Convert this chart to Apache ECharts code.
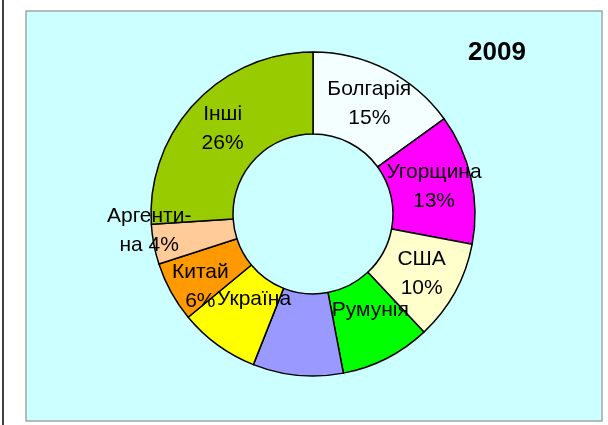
<!DOCTYPE html>
<html>
<head>
<meta charset="utf-8">
<script src="https://cdn.jsdelivr.net/npm/echarts@6/dist/echarts.min.js"></script>
<style>
  html, body { margin: 0; padding: 0; background: #fff; }
  #chart { width: 608px; height: 425px; }
</style>
</head>
<body>
<div id="chart"></div>
<script>
// data (share of exports, %, 2009)
const year = '2009';
const countries = ['Болгарія', 'Угорщина', 'США', 'Румунія', '', 'Україна', 'Китай', 'Аргентина', 'Інші'];
const shares = [15, 13, 10, 9, 9, 8, 6, 4, 26];

const palette = ['#F4FFFF', '#FF00FF', '#FFFFCC', '#00FF00', '#9999FF', '#FFFF00', '#FF9900', '#FFCC99', '#99CC00'];
// label nudges, by country name
const nudge = {
  'Румунія': { dx: 1, dy: -14 },
  'Україна': { dx: 14, dy: -15 },
  'Китай': { dx: -4, dy: 13 },
  'Аргентина': { dx: -42, dy: -7 }
};
const nameOnly = ['Румунія', 'Україна'];

const chart = echarts.init(document.getElementById('chart'));

const option = {
  backgroundColor: '#fff',
  animation: false,
  textStyle: { fontFamily: 'Liberation Sans, Arial, sans-serif' },
  color: palette,
  graphic: [
    { type: 'line', shape: { x1: 3, y1: 0, x2: 3, y2: 425 }, style: { stroke: '#000', lineWidth: 1.5 }, z: -1 },
    { type: 'rect', shape: { x: 26, y: 11, width: 576, height: 410 }, style: { fill: '#CCFFFF', stroke: '#A0A8A8', lineWidth: 1.5 }, z: -1 }
  ],
  title: {
    text: year,
    left: 463,
    top: 35,
    textStyle: { fontSize: 26, fontWeight: 'bold', color: '#000', fontFamily: 'Liberation Sans, Arial, sans-serif' }
  },
  series: [{
    type: 'pie',
    center: [313, 214],
    radius: [80, 162],
    startAngle: 90,
    clockwise: true,
    avoidLabelOverlap: false,
    itemStyle: { borderColor: '#000', borderWidth: 1.5 },
    label: {
      show: true,
      position: 'inside',
      color: '#000',
      fontSize: 21,
      lineHeight: 29,
      fontFamily: 'Liberation Sans, Arial, sans-serif',
      formatter: p => {
        if (nameOnly.includes(p.name)) return p.name;
        if (p.name === 'Аргентина') return 'Аргенти-\nна ' + p.value + '%';
        return p.name + '\n' + p.value + '%';
      }
    },
    labelLayout: p => {
      const n = nudge[countries[p.dataIndex]];
      return n ? { dx: n.dx, dy: n.dy } : {};
    },
    emphasis: { disabled: true },
    data: countries.map((c, i) => ({
      name: c,
      value: shares[i],
      label: c === '' ? { show: false } : undefined
    }))
  }]
};

chart.setOption(option);
</script>
</body>
</html>
